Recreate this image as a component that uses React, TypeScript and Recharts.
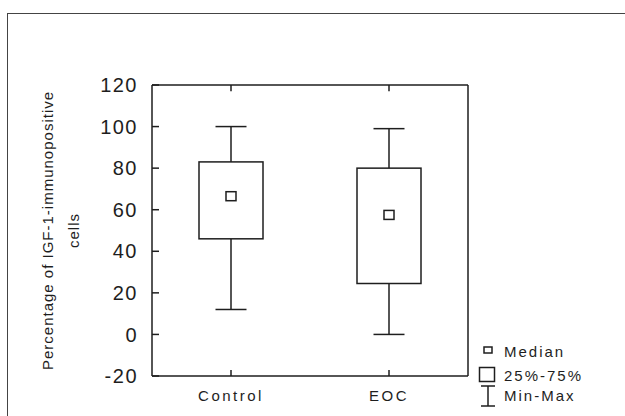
import { BarChart, Bar, XAxis, YAxis, Legend, ReferenceLine } from "recharts";

const categories = ["Control", "EOC"];
const minValues = [12, 0];
const q1Values = [46, 24.5];
const medianValues = [66.5, 57.5];
const q3Values = [83, 80];
const maxValues = [100, 99];
const yTicks = [-20, 0, 20, 40, 60, 80, 100, 120];
const legendLabels = ["Median", "25%-75%", "Min-Max"];

const FONT = '"Liberation Sans", Arial, sans-serif';
const INK = "#1e1e1e";
const Y_MIN = -20;
const Y_MAX = 120;

const data = categories.map((name, i) => ({
  name,
  range: [minValues[i], maxValues[i]],
  min: minValues[i],
  q1: q1Values[i],
  median: medianValues[i],
  q3: q3Values[i],
  max: maxValues[i],
}));

function BoxShape(props: any) {
  const { x, y, width, height, payload } = props;
  if (!payload) return null;
  const { min, max, q1, q3, median } = payload;
  // map a value onto the bar's own pixel span (bar covers min..max)
  const py = (v: number) => y + ((max - v) / (max - min)) * height;
  const cx = x + width / 2;
  const cap = 15.5;
  return (
    <g stroke={INK} strokeWidth={1.5} fill="none">
      <line x1={cx} x2={cx} y1={py(max)} y2={py(q3)} />
      <line x1={cx} x2={cx} y1={py(q1)} y2={py(min)} />
      <line x1={cx - cap} x2={cx + cap} y1={py(max)} y2={py(max)} />
      <line x1={cx - cap} x2={cx + cap} y1={py(min)} y2={py(min)} />
      <rect x={x} y={py(q3)} width={width} height={py(q1) - py(q3)} fill="#fff" />
      <rect x={cx - 5} y={py(median) - 4.5} width={10} height={9} fill="#fff" />
    </g>
  );
}

function LeftTick({ x, y, payload }: any) {
  return (
    <g>
      <line x1={x} x2={x + 7} y1={y} y2={y} stroke={INK} strokeWidth={1.5} />
      <text
        x={x - 14}
        y={y}
        dy="0.36em"
        textAnchor="end"
        fontSize={20}
        letterSpacing={1.5}
        fill={INK}
        fontFamily={FONT}
      >
        {payload.value}
      </text>
    </g>
  );
}

function RightTick({ x, y }: any) {
  return <line x1={x} x2={x - 6} y1={y} y2={y} stroke={INK} strokeWidth={1.5} />;
}

function BottomTick({ x, y, payload }: any) {
  return (
    <g>
      <line x1={x} x2={x} y1={y} y2={y - 6} stroke={INK} strokeWidth={1.5} />
      <text
        x={x}
        y={y + 25}
        textAnchor="middle"
        fontSize={15}
        letterSpacing={2.5}
        fill={INK}
        fontFamily={FONT}
      >
        {payload.value}
      </text>
    </g>
  );
}

function YLabel(props: any) {
  const vb = props.viewBox;
  const cy = vb ? vb.y + vb.height / 2 : 230.5;
  return (
    <g fill={INK} fontFamily={FONT} fontSize={15} letterSpacing={1}>
      <text
        x={47}
        y={cy}
        transform={`rotate(-90, 47, ${cy})`}
        textAnchor="middle"
        dominantBaseline="central"
      >
        Percentage of IGF-1-immunopositive
      </text>
      <text
        x={73}
        y={cy}
        transform={`rotate(-90, 73, ${cy})`}
        textAnchor="middle"
        dominantBaseline="central"
      >
        cells
      </text>
    </g>
  );
}

function BoxLegend() {
  return (
    <svg width={155} height={75} style={{ display: "block" }}>
      <g stroke={INK} strokeWidth={1.5} fill="none">
        <rect x={14} y={9} width={8} height={6} />
        <rect x={9.5} y={29.5} width={15} height={14} />
        <line x1={18} x2={18} y1={48} y2={68} />
        <line x1={11} x2={25} y1={48} y2={48} />
        <line x1={11} x2={25} y1={68} y2={68} />
      </g>
      <g fill={INK} fontFamily={FONT} fontSize={15} letterSpacing={2}>
        <text x={34} y={19}>{legendLabels[0]}</text>
        <text x={34} y={43}>{legendLabels[1]}</text>
        <text x={34} y={63}>{legendLabels[2]}</text>
      </g>
    </svg>
  );
}

export default function App() {
  return (
    <div
      style={{
        position: "absolute",
        left: 0,
        top: 0,
        width: 625,
        height: 416,
        overflow: "hidden",
        background: "#fff",
      }}
    >
      <div
        style={{
          position: "absolute",
          left: 7,
          top: 13,
          width: 640,
          height: 420,
          borderLeft: "1.5px solid #444",
          borderTop: "1.5px solid #444",
        }}
      />
      <BarChart
        width={625}
        height={416}
        data={data}
        margin={{ top: 85, right: 156, bottom: 0, left: 0 }}
      >
        <XAxis
          xAxisId="b"
          dataKey="name"
          height={40}
          tickSize={0}
          tickMargin={0}
          tickLine={false}
          tick={<BottomTick />}
          axisLine={{ stroke: INK, strokeWidth: 1.5 }}
        />
        <YAxis
          yAxisId="l"
          width={152}
          domain={[Y_MIN, Y_MAX]}
          ticks={yTicks}
          tickSize={0}
          tickMargin={0}
          tickLine={false}
          tick={<LeftTick />}
          axisLine={{ stroke: INK, strokeWidth: 1.5 }}
          label={<YLabel />}
        />
        <YAxis
          yAxisId="r"
          orientation="right"
          width={1}
          domain={[Y_MIN, Y_MAX]}
          ticks={yTicks}
          tickSize={0}
          tickMargin={0}
          tickLine={false}
          tick={<RightTick />}
          axisLine={{ stroke: INK, strokeWidth: 1.5 }}
        />
        <ReferenceLine
          xAxisId="b"
          yAxisId="l"
          y={Y_MAX}
          stroke={INK}
          strokeWidth={1.5}
        />
        {categories.map((c) => (
          <ReferenceLine
            key={c}
            xAxisId="b"
            yAxisId="l"
            segment={[
              { x: c, y: Y_MAX },
              { x: c, y: Y_MAX - 3 },
            ]}
            stroke={INK}
            strokeWidth={1.5}
          />
        ))}
        <Legend
          layout="vertical"
          align="center"
          verticalAlign="middle"
          content={<BoxLegend />}
          wrapperStyle={{ left: 470, top: 338, width: 155, height: 75 }}
        />
        <Bar
          xAxisId="b"
          yAxisId="l"
          dataKey="range"
          barSize={64}
          shape={<BoxShape />}
          isAnimationActive={false}
        />
      </BarChart>
    </div>
  );
}
